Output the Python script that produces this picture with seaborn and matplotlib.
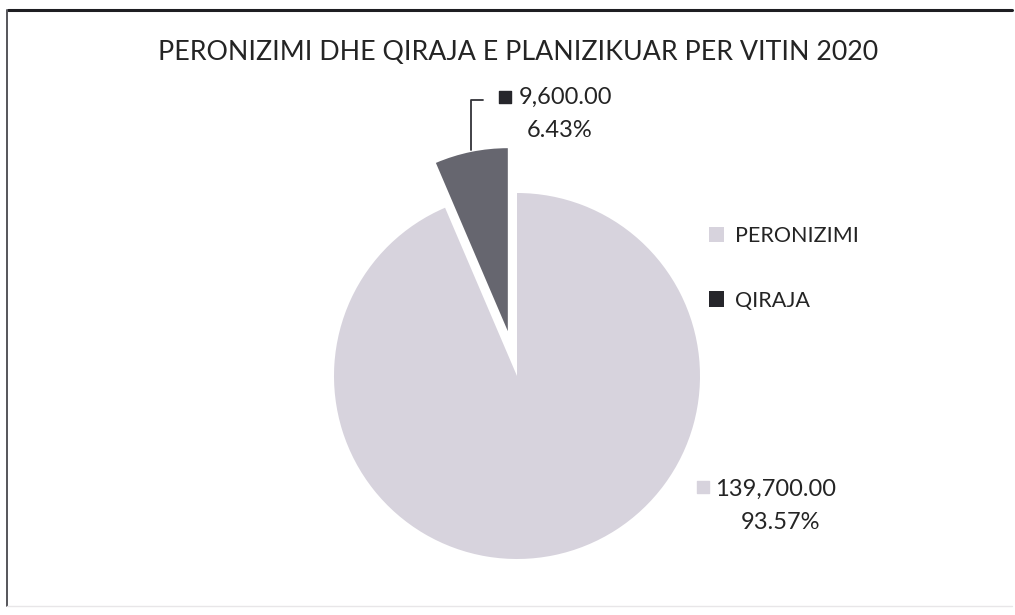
import matplotlib
matplotlib.use("Agg")
import matplotlib.pyplot as plt
import seaborn as sns
import numpy as np
from matplotlib.patches import Patch

sns.set_theme(style="white")
plt.rcParams['font.family'] = ['Lato', 'DejaVu Sans']

categories = ["PERONIZIMI", "QIRAJA"]
values = [139700.00, 9600.00]
title = "PERONIZIMI DHE QIRAJA E PLANIZIKUAR PER VITIN 2020"
slice_colors = ["#d7d3dd", "#66666f"]
legend_colors = ["#d7d3dd", "#26262b"]
text_color = "#242424"

W, H = 1015, 615
fig = plt.figure(figsize=(W / 100, H / 100), dpi=100)
fig.patch.set_facecolor("white")

# frame of the chart area
frame = fig.add_axes([0, 0, 1, 1])
frame.set_xlim(0, W); frame.set_ylim(H, 0); frame.axis("off")
frame.plot([8, 1012], [10, 10], color="#1e1e22", lw=2.2)
frame.plot([7, 7], [10, 606], color="#55555a", lw=1.4)
frame.plot([7, 1012], [606, 606], color="#e8e6e8", lw=1.0)

cx, cy, r = 517, 376, 183
ax = fig.add_axes([(cx - r) / W, (H - cy - r) / H, 2 * r / W, 2 * r / H])
ax.axis("off")

wedges, _ = ax.pie(values, colors=slice_colors, startangle=90, counterclock=False,
                   explode=[0, 0.25], radius=1.0,
                   wedgeprops=dict(linewidth=0))
ax.set_xlim(-1, 1); ax.set_ylim(-1, 1); ax.set_aspect("equal")
for w in wedges:
    w.set_clip_on(False)

total = sum(values)
def lab(v):
    return f"{v:,.2f}", f"{v / total * 100:.2f}%"

fs = 17
# small slice label with leader line
v1, p1 = lab(values[1])
ax.plot([-0.251, -0.251, -0.186], [1.235, 1.508, 1.508], color="#333338", lw=1.3, clip_on=False)
ax.scatter([-0.066], [1.525], marker="s", s=70, color=legend_colors[1], clip_on=False)
ax.text(0.01, 1.520, v1, ha="left", va="center", fontsize=fs, color=text_color)
ax.text(0.235, 1.344, p1, ha="center", va="center", fontsize=fs, color=text_color)

# big slice label
v0, p0 = lab(values[0])
ax.scatter([1.016], [-0.607], marker="s", s=70, color=legend_colors[0], clip_on=False)
ax.text(1.08, -0.620, v0, ha="left", va="center", fontsize=fs, color=text_color)
ax.text(1.44, -0.798, p0, ha="center", va="center", fontsize=fs, color=text_color)

fig.text(518 / W, 1 - 52 / H, title, ha="center", va="center", fontsize=19.3, color=text_color)

handles = [Patch(facecolor=c, edgecolor="none") for c in legend_colors]
fig.legend(handles, categories, loc="upper left", bbox_to_anchor=(690 / W, 1 - 207 / H),
           frameon=False, fontsize=15.5, handlelength=0.7, handleheight=0.7,
           handletextpad=0.5, labelspacing=2.05, labelcolor=text_color)

fig.savefig("out.png", dpi=100, facecolor="white")
